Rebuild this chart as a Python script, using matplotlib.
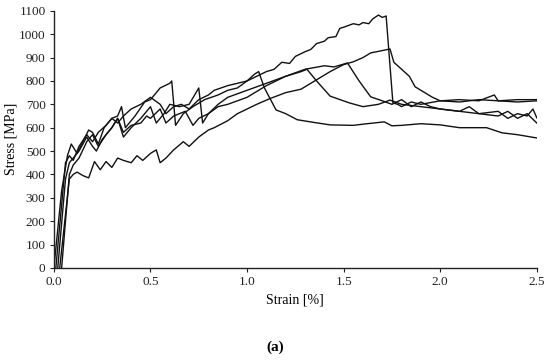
import matplotlib
matplotlib.use("Agg")
import matplotlib.pyplot as plt

plt.rcParams['font.family'] = ['Liberation Serif', 'DejaVu Serif']

# Curve A (peak ~1080)
a_x = [0.01, 0.06, 0.08, 0.10, 0.13, 0.17, 0.20, 0.23, 0.27, 0.30, 0.33, 0.36, 0.40, 0.45, 0.50, 0.55, 0.58, 0.62, 0.66, 0.70, 0.75, 0.80, 0.83, 0.90, 0.95, 1.00, 1.05, 1.10, 1.14, 1.18, 1.22, 1.25, 1.30, 1.33, 1.36, 1.40, 1.42, 1.46, 1.48, 1.50, 1.55, 1.58, 1.60, 1.63, 1.65, 1.68, 1.70, 1.72, 1.755, 1.78, 1.80, 1.85, 1.90, 2.00, 2.10, 2.20, 2.28, 2.30, 2.40, 2.50]
a_y = [0, 450, 480, 460, 520, 570, 540, 580, 610, 640, 620, 650, 680, 700, 730, 700, 660, 690, 700, 680, 720, 740, 760, 780, 790, 800, 820, 840, 850, 880, 875, 905, 925, 935, 960, 970, 985, 990, 1025, 1030, 1045, 1040, 1050, 1045, 1065, 1082, 1072, 1078, 706, 700, 690, 710, 700, 715, 720, 715, 740, 715, 720, 720]

# Curve B (low yield, peak ~935)
b_x = [0.03, 0.08, 0.10, 0.12, 0.15, 0.18, 0.21, 0.24, 0.27, 0.30, 0.33, 0.36, 0.40, 0.43, 0.46, 0.50, 0.53, 0.55, 0.58, 0.62, 0.67, 0.70, 0.75, 0.80, 0.83, 0.90, 0.95, 1.00, 1.05, 1.12, 1.20, 1.28, 1.35, 1.43, 1.50, 1.55, 1.60, 1.64, 1.70, 1.74, 1.76, 1.80, 1.84, 1.87, 1.92, 1.96, 2.00, 2.10, 2.20, 2.30, 2.40, 2.50]
b_y = [0, 380, 400, 410, 395, 385, 455, 420, 455, 430, 470, 460, 450, 480, 460, 490, 505, 450, 470, 505, 540, 520, 560, 590, 600, 630, 660, 680, 700, 725, 750, 765, 800, 840, 870, 882, 900, 920, 930, 937, 880, 850, 820, 775, 750, 730, 715, 710, 720, 715, 710, 715]

# Curve C (peak ~875 at 1.5)
c_x = [0.04, 0.08, 0.10, 0.13, 0.17, 0.20, 0.23, 0.27, 0.30, 0.33, 0.36, 0.40, 0.45, 0.48, 0.50, 0.55, 0.58, 0.62, 0.68, 0.72, 0.75, 0.80, 0.85, 0.90, 1.00, 1.10, 1.20, 1.30, 1.40, 1.45, 1.52, 1.58, 1.64, 1.70, 1.75, 1.80, 1.85, 1.90, 1.95, 2.00, 2.10, 2.15, 2.20, 2.30, 2.35, 2.40, 2.45, 2.50]
c_y = [0, 400, 440, 470, 540, 570, 520, 570, 600, 640, 580, 610, 620, 650, 640, 680, 620, 650, 670, 610, 640, 660, 690, 700, 730, 780, 820, 850, 865, 860, 877, 800, 732, 715, 700, 720, 690, 710, 690, 680, 670, 690, 660, 650, 670, 640, 660, 620]

# Curve D (peak ~850 at 1.3)
d_x = [0.02, 0.06, 0.08, 0.10, 0.13, 0.17, 0.20, 0.22, 0.25, 0.30, 0.33, 0.36, 0.40, 0.45, 0.50, 0.53, 0.57, 0.60, 0.65, 0.70, 0.75, 0.77, 0.80, 0.85, 0.90, 1.00, 1.10, 1.20, 1.28, 1.31, 1.36, 1.43, 1.53, 1.60, 1.68, 1.74, 1.80, 1.90, 2.00, 2.10, 2.20, 2.30, 2.35, 2.40, 2.45, 2.48, 2.50]
d_y = [0, 380, 450, 470, 500, 560, 520, 500, 550, 600, 640, 560, 600, 640, 690, 620, 660, 700, 690, 700, 770, 620, 660, 700, 730, 760, 790, 820, 840, 850, 800, 735, 706, 690, 700, 718, 700, 690, 680, 670, 660, 670, 640, 660, 650, 680, 642]

# Curve E (peak ~840 at 1.05)
e_x = [0.00, 0.04, 0.07, 0.09, 0.12, 0.15, 0.18, 0.20, 0.23, 0.26, 0.30, 0.33, 0.35, 0.37, 0.42, 0.47, 0.50, 0.52, 0.55, 0.60, 0.61, 0.63, 0.67, 0.72, 0.78, 0.85, 0.90, 0.95, 1.00, 1.04, 1.06, 1.09, 1.15, 1.20, 1.26, 1.35, 1.43, 1.55, 1.60, 1.71, 1.75, 1.80, 1.90, 2.00, 2.10, 2.24, 2.32, 2.40, 2.50]
e_y = [0, 330, 480, 530, 490, 540, 590, 580, 530, 600, 640, 650, 690, 600, 650, 710, 720, 740, 770, 790, 800, 610, 660, 690, 720, 740, 760, 770, 800, 830, 840, 770, 676, 660, 634, 622, 612, 610, 615, 625, 608, 610, 617, 612, 600, 600, 578, 570, 556]

x_ticks = [0.0, 0.5, 1.0, 1.5, 2.0, 2.5]
x_labels = ["0.0", "0.5", "1.0", "1.5", "2.0", "2.5"]
y_ticks = list(range(0, 1101, 100))

fig = plt.figure(figsize=(5.5, 3.62), dpi=100)
ax = fig.add_axes([0.098, 0.26, 0.878, 0.71])

for xs, ys in [(a_x, a_y), (b_x, b_y), (c_x, c_y), (d_x, d_y), (e_x, e_y)]:
    ax.plot(xs, ys, color='#111111', lw=1.0)

ax.set_xlim(0, 2.5)
ax.set_ylim(0, 1100)
ax.set_xticks(x_ticks)
ax.set_xticklabels(x_labels)
ax.set_yticks(y_ticks)
for s in ['top', 'right']:
    ax.spines[s].set_visible(False)
for s in ['left', 'bottom']:
    ax.spines[s].set_linewidth(1.0)
    ax.spines[s].set_color('#222222')
ax.tick_params(direction='out', length=3, width=0.8, labelsize=9.5, colors='#222222', pad=3)
ax.set_xlabel('Strain [%]', fontsize=10, labelpad=4)
ax.set_ylabel('Stress [MPa]', fontsize=10, labelpad=1)

fig.text(0.5, 0.04, '(a)', ha='center', va='center', fontsize=11, fontweight='bold')

fig.savefig('out.png', dpi=100)
